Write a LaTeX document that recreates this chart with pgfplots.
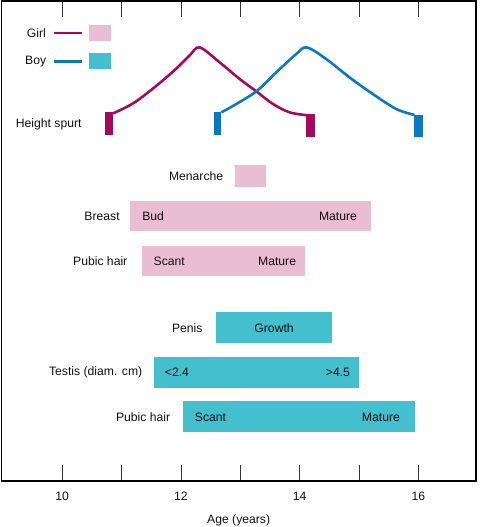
\documentclass[border=0pt]{standalone}
\usepackage{fontspec}
\setmainfont{Liberation Sans}
\usepackage{pgfplots}
\pgfplotsset{compat=1.18}
\definecolor{girlline}{HTML}{A50A5A}
\definecolor{girlfill}{HTML}{E9BDD2}
\definecolor{boyline}{HTML}{0A78C0}
\definecolor{boyfill}{HTML}{44BFCD}
\definecolor{txt}{HTML}{111111}
\begin{document}
\begin{tikzpicture}[font=\fontsize{12.2}{14}\selectfont]
\begin{axis}[
  scale only axis, width=475pt, height=481pt,
  xmin=8.977, xmax=16.967, ymin=-481, ymax=0,
  axis line style={line width=1.6pt, black},
  xtick={10,11,12,13,14,15,16},
  xticklabels={10,,12,,14,,16},
  xtick align=inside, xtick pos=both,
  major tick length=16pt,
  xtick style={line width=0.8pt, black!80},
  ytick=\empty,
  xticklabel style={text=txt, yshift=-7.5pt},
  xlabel={Age (years)},
  xlabel style={text=txt, yshift=-7.5pt},
  clip=false,
]
% legend swatches
\addplot[girlline, line width=2.5pt] coordinates {(9.866,-32.3) (10.336,-32.3)};
\addplot[fill=girlfill, draw=none] coordinates {(10.454,-24) (10.819,-24) (10.819,-40) (10.454,-40)} -- cycle;
\addplot[boyline, line width=2.5pt] coordinates {(9.866,-60.7) (10.336,-60.7)};
\addplot[fill=boyfill, draw=none] coordinates {(10.454,-52.3) (10.819,-52.3) (10.819,-68.3) (10.454,-68.3)} -- cycle;
% height spurt curves
\addplot[girlline, line width=2.6pt, smooth, tension=0.55] coordinates {
 (10.858,-112.7) (11.20,-102.5) (11.588,-85) (11.924,-67.8) (12.15,-54.5) (12.316,-46.7)
 (12.653,-61.7) (12.989,-78.3) (13.270,-90.7) (13.549,-103.3) (13.830,-111.7) (14.111,-114.5)};
\addplot[boyline, line width=2.6pt, smooth, tension=0.55] coordinates {
 (12.681,-111.7) (12.90,-104.5) (13.270,-90.7) (13.606,-71.7) (13.943,-53.3) (14.121,-46.7)
 (14.447,-58.3) (14.839,-76.7) (15.231,-93.3) (15.625,-108.3) (15.933,-114.3)};
% markers
\addplot[fill=girlline, draw=none] coordinates {(10.723,-111.7) (10.858,-111.7) (10.858,-134.3) (10.723,-134.3)} -- cycle;
\addplot[fill=girlline, draw=none] coordinates {(14.111,-113.3) (14.251,-113.3) (14.251,-136) (14.111,-136)} -- cycle;
\addplot[fill=boyline, draw=none] coordinates {(12.552,-111.7) (12.681,-111.7) (12.681,-134.3) (12.552,-134.3)} -- cycle;
\addplot[fill=boyline, draw=none] coordinates {(15.933,-114) (16.072,-114) (16.072,-136) (15.933,-136)} -- cycle;
% girl bars
\addplot[fill=girlfill, draw=none] coordinates {(12.917,-164) (13.437,-164) (13.437,-186) (12.917,-186)} -- cycle;
\addplot[fill=girlfill, draw=none] coordinates {(11.140,-200.7) (15.194,-200.7) (15.194,-231) (11.140,-231)} -- cycle;
\addplot[fill=girlfill, draw=none] coordinates {(11.341,-245.7) (14.083,-245.7) (14.083,-275.7) (11.341,-275.7)} -- cycle;
% boy bars
\addplot[fill=boyfill, draw=none] coordinates {(12.585,-312) (14.538,-312) (14.538,-342.7) (12.585,-342.7)} -- cycle;
\addplot[fill=boyfill, draw=none] coordinates {(11.542,-357) (15.008,-357) (15.008,-387.7) (11.542,-387.7)} -- cycle;
\addplot[fill=boyfill, draw=none] coordinates {(12.030,-401.3) (15.949,-401.3) (15.949,-432) (12.030,-432)} -- cycle;
% texts
\begin{scope}[every node/.style={text=txt, inner sep=0pt}]
\node[anchor=west] at (axis cs:9.401,-32.3) {Girl};
\node[anchor=west] at (axis cs:9.373,-60.7) {Boy};
\node[anchor=west] at (axis cs:9.216,-123.3) {Height spurt};
\node[anchor=east] at (axis cs:12.715,-175.5) {Menarche};
\node[anchor=east] at (axis cs:10.971,-216) {Breast};
\node[anchor=west] at (axis cs:11.346,-216) {Bud};
\node[anchor=east] at (axis cs:14.969,-216) {Mature};
\node[anchor=east] at (axis cs:11.100,-260.7) {Pubic hair};
\node[anchor=west] at (axis cs:11.537,-260.7) {Scant};
\node[anchor=east] at (axis cs:13.943,-260.7) {Mature};
\node[anchor=east] at (axis cs:12.367,-327.7) {Penis};
\node at (axis cs:13.569,-327.7) {Growth};
\node[anchor=east] at (axis cs:11.352,-371.7) {Testis (diam. cm)};
\node[anchor=west] at (axis cs:11.727,-371.7) {<2.4};
\node[anchor=east] at (axis cs:14.851,-371.7) {>4.5};
\node[anchor=east] at (axis cs:11.823,-417) {Pubic hair};
\node[anchor=west] at (axis cs:12.232,-417) {Scant};
\node[anchor=east] at (axis cs:15.692,-417) {Mature};
\end{scope}
\end{axis}
\path (current axis.south west) ++(-1.5pt,-46pt) coordinate (BBA);
\path (current axis.north east) ++(3.5pt,0.8pt) coordinate (BBB);
\pgfresetboundingbox
\path[use as bounding box] (BBA) rectangle (BBB);
\end{tikzpicture}
\end{document}
